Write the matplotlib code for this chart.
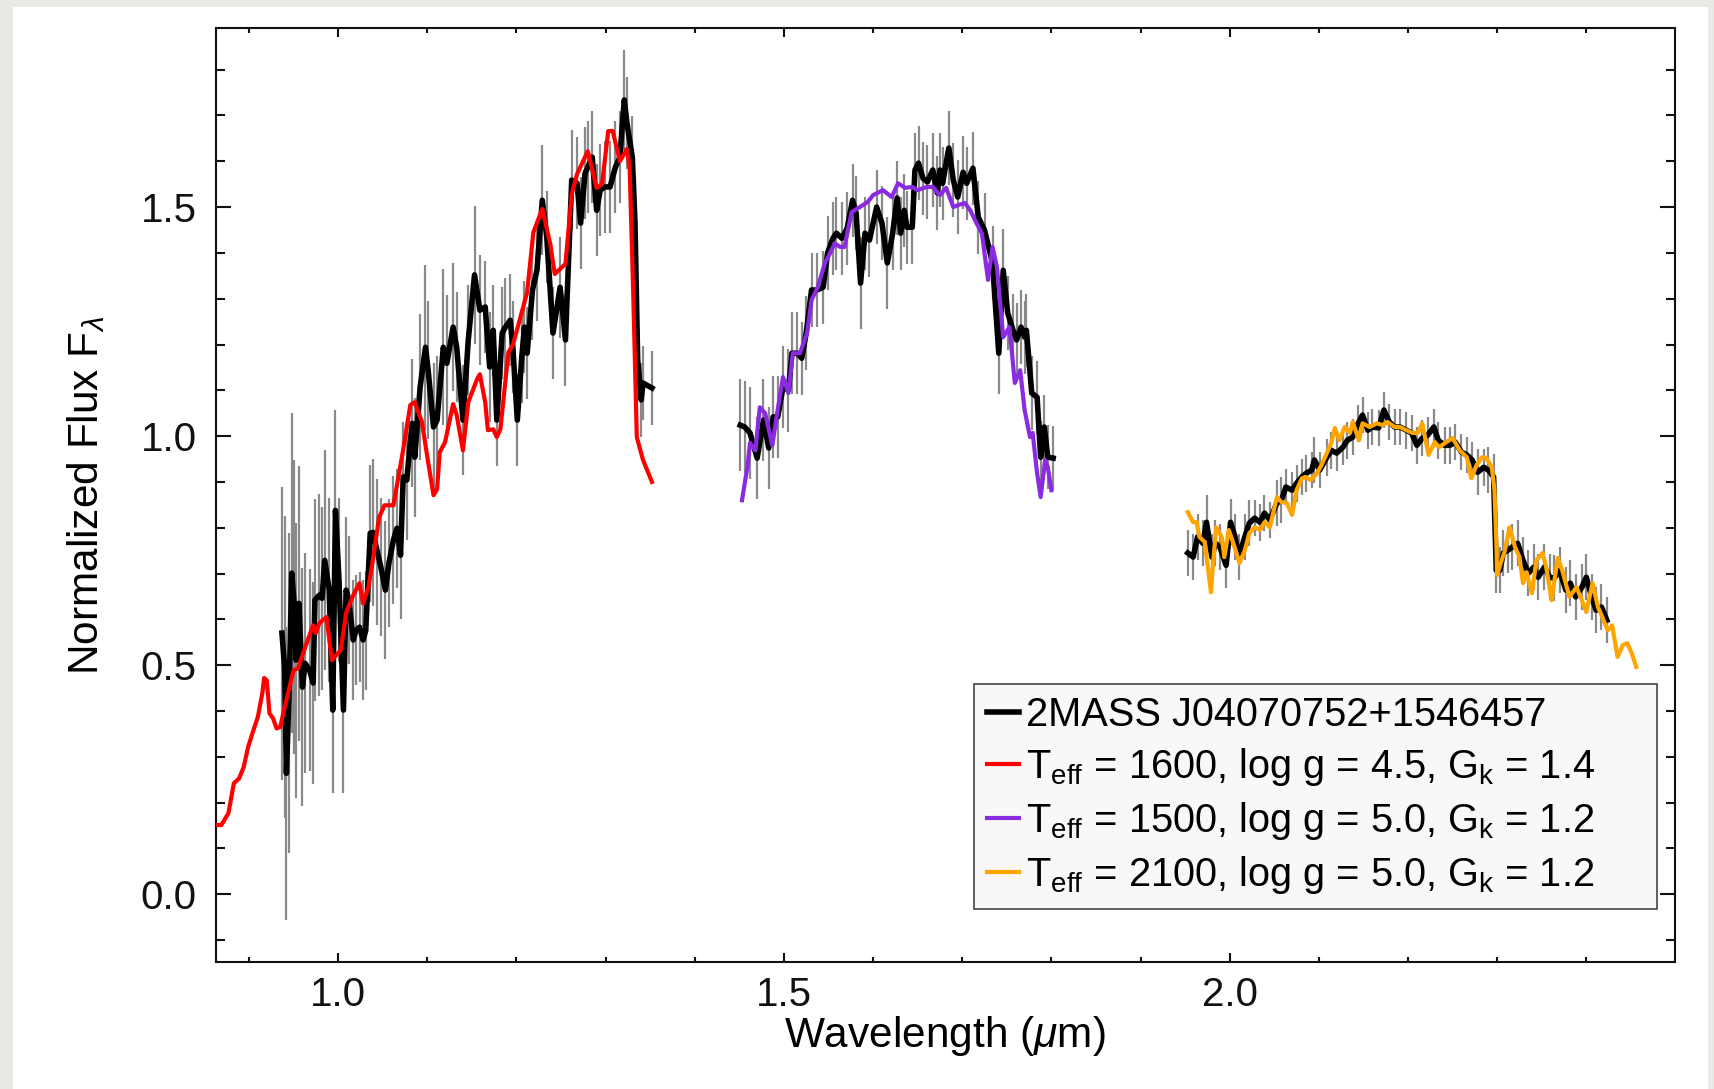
import matplotlib
matplotlib.use("Agg")
import matplotlib.pyplot as plt
from matplotlib.patches import Rectangle
from matplotlib.ticker import MultipleLocator, FormatStrFormatter

# --- observed spectrum, J band ---
wl_j = [
    0.937, 0.940, 0.942, 0.945, 0.948, 0.951, 0.953, 0.956, 0.960, 0.963,
    0.968, 0.972, 0.974, 0.979, 0.982, 0.985, 0.990, 0.994, 0.997, 1.001,
    1.006, 1.009, 1.012, 1.017, 1.020, 1.024, 1.028, 1.031, 1.036, 1.039,
    1.044, 1.048, 1.053, 1.057, 1.062, 1.066, 1.070, 1.073, 1.077, 1.083,
    1.086, 1.092, 1.098, 1.101, 1.107, 1.111, 1.118, 1.122, 1.129, 1.133,
    1.140, 1.146, 1.153, 1.159, 1.165, 1.170, 1.174, 1.178, 1.184, 1.187,
    1.193, 1.196, 1.201, 1.206, 1.209, 1.212, 1.218, 1.223, 1.229, 1.234,
    1.241, 1.249, 1.255, 1.262, 1.268, 1.272, 1.277, 1.280, 1.285, 1.290,
    1.294, 1.299, 1.305, 1.311, 1.316, 1.321, 1.324, 1.330, 1.333, 1.336,
    1.340, 1.342, 1.352,
]
flux_j = [
    0.570, 0.496, 0.264, 0.439, 0.701, 0.627, 0.511, 0.635, 0.452, 0.504,
    0.489, 0.461, 0.642, 0.653, 0.646, 0.729, 0.664, 0.402, 0.838, 0.686,
    0.402, 0.664, 0.642, 0.555, 0.576, 0.583, 0.555, 0.576, 0.788, 0.790,
    0.747, 0.714, 0.664, 0.723, 0.773, 0.799, 0.740, 0.911, 0.904, 1.028,
    0.954, 1.107, 1.194, 1.144, 1.020, 1.035, 1.194, 1.159, 1.238, 1.194,
    1.035, 1.210, 1.352, 1.275, 1.282, 1.151, 1.231, 1.035, 1.225, 1.236,
    1.253, 1.194, 1.035, 1.173, 1.238, 1.181, 1.319, 1.362, 1.515, 1.435,
    1.225, 1.325, 1.210, 1.559, 1.552, 1.465, 1.574, 1.587, 1.609, 1.493,
    1.537, 1.544, 1.544, 1.587, 1.609, 1.734, 1.683, 1.609, 1.465, 1.166,
    1.079, 1.116, 1.105,
]
err_j = [
    0.32, 0.33, 0.32, 0.35, 0.35, 0.32, 0.30, 0.30, 0.26, 0.24,
    0.22, 0.22, 0.22, 0.22, 0.20, 0.24, 0.20, 0.18, 0.22, 0.18,
    0.18, 0.16, 0.14, 0.13, 0.12, 0.12, 0.13, 0.13, 0.15, 0.16,
    0.16, 0.15, 0.15, 0.14, 0.14, 0.13, 0.14, 0.12, 0.13, 0.14,
    0.13, 0.16, 0.18, 0.15, 0.14, 0.14, 0.17, 0.15, 0.14, 0.12,
    0.12, 0.12, 0.15, 0.12, 0.10, 0.12, 0.10, 0.10, 0.10, 0.11,
    0.10, 0.10, 0.10, 0.10, 0.10, 0.10, 0.11, 0.11, 0.12, 0.10,
    0.10, 0.11, 0.10, 0.11, 0.10, 0.10, 0.10, 0.10, 0.10, 0.10,
    0.10, 0.10, 0.10, 0.10, 0.10, 0.11, 0.10, 0.09, 0.10, 0.09,
    0.08, 0.08, 0.08,
]

# --- observed spectrum, H band ---
wl_h = [
    1.451, 1.456, 1.462, 1.470, 1.477, 1.483, 1.488, 1.493, 1.499, 1.505,
    1.509, 1.515, 1.520, 1.525, 1.531, 1.537, 1.544, 1.549, 1.555, 1.559,
    1.565, 1.571, 1.577, 1.581, 1.586, 1.591, 1.596, 1.604, 1.610, 1.616,
    1.622, 1.627, 1.631, 1.635, 1.638, 1.644, 1.647, 1.651, 1.656, 1.661,
    1.667, 1.672, 1.675, 1.678, 1.685, 1.690, 1.695, 1.701, 1.705, 1.712,
    1.718, 1.725, 1.734, 1.741, 1.746, 1.751, 1.757, 1.761, 1.766, 1.770,
    1.772, 1.778, 1.784, 1.788, 1.792, 1.796, 1.802,
]
flux_h = [
    1.024, 1.020, 1.007, 0.952, 1.035, 0.974, 1.042, 1.042, 1.107, 1.100,
    1.181, 1.181, 1.170, 1.225, 1.319, 1.319, 1.325, 1.400, 1.432, 1.443,
    1.432, 1.454, 1.515, 1.487, 1.334, 1.443, 1.428, 1.500, 1.465, 1.378,
    1.443, 1.520, 1.443, 1.493, 1.456, 1.456, 1.581, 1.596, 1.563, 1.555,
    1.581, 1.531, 1.581, 1.552, 1.629, 1.559, 1.522, 1.576, 1.552, 1.585,
    1.478, 1.450, 1.378, 1.181, 1.362, 1.269, 1.231, 1.210, 1.238, 1.216,
    1.231, 1.094, 1.085, 0.954, 1.020, 0.954, 0.952,
]
err_h = [
    0.10, 0.10, 0.10, 0.09, 0.09, 0.09, 0.09, 0.09, 0.09, 0.09,
    0.09, 0.09, 0.08, 0.08, 0.08, 0.08, 0.08, 0.08, 0.08, 0.08,
    0.08, 0.08, 0.08, 0.08, 0.10, 0.08, 0.08, 0.08, 0.08, 0.10,
    0.08, 0.08, 0.08, 0.08, 0.08, 0.08, 0.08, 0.08, 0.08, 0.08,
    0.08, 0.08, 0.08, 0.08, 0.08, 0.08, 0.08, 0.08, 0.08, 0.08,
    0.08, 0.08, 0.08, 0.09, 0.09, 0.08, 0.08, 0.08, 0.08, 0.08,
    0.08, 0.08, 0.08, 0.08, 0.07, 0.07, 0.07,
]

# --- observed spectrum, K band ---
wl_k = [
    1.953, 1.959, 1.964, 1.970, 1.974, 1.980, 1.984, 1.989, 1.996, 2.001,
    2.006, 2.010, 2.017, 2.022, 2.028, 2.034, 2.039, 2.045, 2.053, 2.058,
    2.063, 2.070, 2.075, 2.081, 2.086, 2.092, 2.095, 2.101, 2.109, 2.114,
    2.120, 2.127, 2.132, 2.138, 2.144, 2.149, 2.155, 2.160, 2.167, 2.173,
    2.179, 2.185, 2.191, 2.198, 2.204, 2.210, 2.216, 2.222, 2.229, 2.234,
    2.241, 2.247, 2.253, 2.260, 2.266, 2.272, 2.278, 2.285, 2.290, 2.296,
    2.299, 2.303, 2.307, 2.312, 2.317, 2.323, 2.329, 2.335, 2.341, 2.346,
    2.353, 2.359, 2.364, 2.370, 2.377, 2.382, 2.388, 2.395, 2.400, 2.406,
    2.411, 2.417, 2.423,
]
flux_k = [
    0.745, 0.736, 0.780, 0.766, 0.812, 0.736, 0.766, 0.758, 0.718, 0.812,
    0.780, 0.736, 0.780, 0.810, 0.821, 0.812, 0.832, 0.817, 0.854, 0.860,
    0.889, 0.882, 0.897, 0.911, 0.919, 0.926, 0.948, 0.926, 0.954, 0.969,
    0.963, 0.976, 0.991, 0.998, 1.028, 1.046, 1.013, 1.020, 1.018, 1.057,
    1.031, 1.020, 1.020, 1.013, 1.007, 0.980, 0.996, 1.002, 1.020, 0.991,
    0.980, 0.980, 0.987, 0.965, 0.959, 0.948, 0.921, 0.932, 0.926, 0.911,
    0.707, 0.707, 0.745, 0.751, 0.758, 0.766, 0.729, 0.701, 0.714, 0.692,
    0.714, 0.692, 0.690, 0.707, 0.664, 0.679, 0.649, 0.670, 0.692, 0.649,
    0.620, 0.627, 0.598,
]
err_k = [
    0.05, 0.05, 0.05, 0.05, 0.06, 0.05, 0.05, 0.05, 0.05, 0.05,
    0.05, 0.05, 0.05, 0.05, 0.04, 0.04, 0.04, 0.04, 0.05, 0.05,
    0.04, 0.04, 0.04, 0.04, 0.04, 0.04, 0.05, 0.04, 0.04, 0.04,
    0.04, 0.04, 0.04, 0.04, 0.04, 0.04, 0.04, 0.04, 0.04, 0.04,
    0.04, 0.04, 0.04, 0.04, 0.04, 0.04, 0.04, 0.04, 0.04, 0.04,
    0.04, 0.04, 0.04, 0.04, 0.04, 0.04, 0.05, 0.04, 0.05, 0.05,
    0.05, 0.05, 0.05, 0.05, 0.05, 0.05, 0.05, 0.05, 0.05, 0.05,
    0.05, 0.05, 0.05, 0.05, 0.05, 0.05, 0.05, 0.05, 0.05, 0.05,
    0.05, 0.05, 0.05,
]

# --- model spectra ---
wl_m1600 = [
    0.863, 0.869, 0.877, 0.883, 0.889, 0.894, 0.899, 0.905, 0.910, 0.915,
    0.917, 0.920, 0.923, 0.927, 0.931, 0.935, 0.942, 0.950, 0.955, 0.964,
    0.972, 0.975, 0.979, 0.987, 0.993, 1.003, 1.009, 1.017, 1.024, 1.028,
    1.034, 1.039, 1.046, 1.052, 1.062, 1.072, 1.081, 1.086, 1.094, 1.101,
    1.107, 1.111, 1.114, 1.120, 1.129, 1.133, 1.140, 1.146, 1.156, 1.159,
    1.165, 1.168, 1.174, 1.178, 1.182, 1.191, 1.196, 1.204, 1.212, 1.219,
    1.229, 1.238, 1.243, 1.255, 1.262, 1.268, 1.280, 1.290, 1.296, 1.303,
    1.308, 1.316, 1.324, 1.327, 1.331, 1.335, 1.342, 1.352,
]
flux_m1600 = [
    0.151, 0.151, 0.177, 0.242, 0.253, 0.277, 0.321, 0.358, 0.387, 0.439,
    0.472, 0.467, 0.395, 0.384, 0.362, 0.365, 0.424, 0.489, 0.493, 0.544,
    0.587, 0.570, 0.592, 0.605, 0.511, 0.533, 0.614, 0.653, 0.679, 0.635,
    0.670, 0.729, 0.823, 0.849, 0.849, 0.959, 1.068, 1.074, 1.031, 0.943,
    0.871, 0.884, 0.965, 0.987, 1.070, 1.046, 0.969, 1.074, 1.125, 1.135,
    1.074, 1.013, 1.015, 0.998, 1.015, 1.183, 1.199, 1.256, 1.314, 1.445,
    1.496, 1.419, 1.354, 1.376, 1.528, 1.572, 1.622, 1.542, 1.550, 1.666,
    1.666, 1.600, 1.627, 1.585, 1.312, 0.998, 0.948, 0.900,
]
wl_m1500 = [
    1.453, 1.459, 1.462, 1.468, 1.473, 1.479, 1.487, 1.493, 1.499, 1.505,
    1.510, 1.518, 1.526, 1.531, 1.538, 1.546, 1.552, 1.557, 1.563, 1.568,
    1.576, 1.585, 1.594, 1.600, 1.611, 1.621, 1.628, 1.636, 1.644, 1.650,
    1.660, 1.667, 1.675, 1.682, 1.690, 1.695, 1.703, 1.709, 1.716, 1.722,
    1.729, 1.734, 1.739, 1.746, 1.753, 1.759, 1.765, 1.770, 1.776, 1.779,
    1.784, 1.788, 1.793, 1.796, 1.800,
]
flux_m1500 = [
    0.860, 0.932, 0.985, 0.969, 1.063, 1.050, 0.980, 1.057, 1.129, 1.094,
    1.181, 1.181, 1.225, 1.297, 1.325, 1.378, 1.400, 1.421, 1.413, 1.413,
    1.489, 1.500, 1.511, 1.526, 1.537, 1.522, 1.552, 1.542, 1.544, 1.537,
    1.544, 1.544, 1.526, 1.542, 1.500, 1.504, 1.509, 1.493, 1.465, 1.443,
    1.341, 1.413, 1.369, 1.216, 1.238, 1.116, 1.144, 1.057, 0.998, 1.007,
    0.919, 0.867, 0.948, 0.932, 0.882,
]
wl_m2100 = [
    1.953, 1.959, 1.963, 1.966, 1.972, 1.979, 1.981, 1.985, 1.991, 1.994,
    1.999, 2.003, 2.011, 2.017, 2.022, 2.028, 2.034, 2.039, 2.045, 2.053,
    2.058, 2.064, 2.070, 2.075, 2.081, 2.085, 2.091, 2.098, 2.103, 2.109,
    2.114, 2.118, 2.123, 2.129, 2.135, 2.138, 2.145, 2.149, 2.157, 2.165,
    2.172, 2.177, 2.185, 2.191, 2.198, 2.205, 2.211, 2.216, 2.223, 2.230,
    2.235, 2.243, 2.250, 2.258, 2.266, 2.271, 2.277, 2.283, 2.288, 2.294,
    2.297, 2.299, 2.300, 2.305, 2.308, 2.314, 2.320, 2.325, 2.329, 2.333,
    2.339, 2.344, 2.351, 2.355, 2.361, 2.368, 2.373, 2.381, 2.389, 2.395,
    2.400, 2.407, 2.413, 2.418, 2.424, 2.429, 2.435, 2.441, 2.446, 2.451,
    2.456,
]
flux_m2100 = [
    0.834, 0.812, 0.812, 0.780, 0.769, 0.659, 0.714, 0.801, 0.780, 0.736,
    0.795, 0.773, 0.723, 0.751, 0.788, 0.801, 0.795, 0.812, 0.801, 0.867,
    0.856, 0.854, 0.828, 0.882, 0.908, 0.911, 0.904, 0.919, 0.937, 0.963,
    0.985, 1.018, 0.991, 1.020, 1.007, 1.031, 0.991, 1.028, 1.020, 1.028,
    1.024, 1.031, 1.020, 1.020, 1.013, 1.007, 1.007, 1.028, 0.959, 0.987,
    0.976, 0.987, 0.996, 0.969, 0.954, 0.908, 0.937, 0.954, 0.952, 0.932,
    0.882, 0.773, 0.697, 0.729, 0.745, 0.801, 0.758, 0.736, 0.679, 0.703,
    0.657, 0.729, 0.745, 0.714, 0.642, 0.734, 0.707, 0.649, 0.670, 0.642,
    0.616, 0.679, 0.627, 0.605, 0.576, 0.587, 0.518, 0.544, 0.548, 0.526,
    0.496,
]

label_obs = "2MASS J04070752+1546457"
label_m1600 = r"T$_{\rm eff}$ = 1600, log g = 4.5, G$_{\rm k}$ = 1.4"
label_m1500 = r"T$_{\rm eff}$ = 1500, log g = 5.0, G$_{\rm k}$ = 1.2"
label_m2100 = r"T$_{\rm eff}$ = 2100, log g = 5.0, G$_{\rm k}$ = 1.2"

# --- style ---
plt.rcParams["font.family"] = ["Liberation Sans", "DejaVu Sans"]
plt.rcParams["mathtext.fontset"] = "custom"
plt.rcParams["mathtext.rm"] = "Liberation Sans"
plt.rcParams["mathtext.it"] = "Liberation Sans:italic"
plt.rcParams["mathtext.bf"] = "Liberation Sans:bold"
plt.rcParams["font.size"] = 29

fig = plt.figure(figsize=(17.14, 10.89), dpi=100, facecolor="#e9e9e5")
# white card behind the plot (grey paper frame around it)
card = Rectangle((0.0076, 0.0), 0.9889, 0.9936, transform=fig.transFigure,
                 facecolor="white", edgecolor="none", zorder=-10)
fig.add_artist(card)
ax = fig.add_axes([0.126, 0.1166, 0.851, 0.8577])
ax.set_facecolor("white")

err_kw = dict(fmt="none", ecolor="#8a8a8a", elinewidth=1.6, capsize=0, zorder=1)
ax.errorbar(wl_j, flux_j, yerr=err_j, **err_kw)
ax.errorbar(wl_h, flux_h, yerr=err_h, **err_kw)
ax.errorbar(wl_k, flux_k, yerr=err_k, **err_kw)

ax.plot(wl_j, flux_j, color="black", lw=4.0, zorder=2, label=label_obs)
ax.plot(wl_h, flux_h, color="black", lw=4.0, zorder=2)
ax.plot(wl_k, flux_k, color="black", lw=4.0, zorder=2)

ax.plot(wl_m1600, flux_m1600, color="#ff0000", lw=3.0, zorder=3, label=label_m1600)
ax.plot(wl_m1500, flux_m1500, color="#8a2be2", lw=3.0, zorder=3, label=label_m1500)
ax.plot(wl_m2100, flux_m2100, color="#ffa500", lw=3.0, zorder=3, label=label_m2100)

ax.set_xlim(0.863, 2.499)
ax.set_ylim(-0.148, 1.891)
ax.xaxis.set_major_locator(MultipleLocator(0.5))
ax.xaxis.set_minor_locator(MultipleLocator(0.1))
ax.yaxis.set_major_locator(MultipleLocator(0.5))
ax.yaxis.set_minor_locator(MultipleLocator(0.1))
ax.xaxis.set_major_formatter(FormatStrFormatter("%.1f"))
ax.yaxis.set_major_formatter(FormatStrFormatter("%.1f"))

ax.tick_params(axis="both", which="both", direction="in", top=True, right=True,
               width=1.5, colors="#111111", labelsize=29)
ax.tick_params(axis="x", which="major", length=6.8, pad=10)
ax.tick_params(axis="x", which="minor", length=3.6)
ax.tick_params(axis="y", which="major", length=10.8, pad=14)
ax.tick_params(axis="y", which="minor", length=6.5)
for sp in ax.spines.values():
    sp.set_linewidth(1.5)
    sp.set_color("#111111")

ax.set_xlabel(r"Wavelength ($\mu$m)", fontsize=30.5, labelpad=0)
ax.set_ylabel(r"Normalized Flux F$_\lambda$", fontsize=30.5, labelpad=24)

# legend box stretched to the width seen in the original
leg = ax.legend(loc="lower left", bbox_to_anchor=(0.520, 0.057, 0.468, 0.245),
                mode="expand", borderaxespad=0, fontsize=28.6,
                handlelength=0.8, handletextpad=0.18, borderpad=0.32,
                labelspacing=0.3, fancybox=False, framealpha=1)
leg.get_frame().set_edgecolor("#444444")
leg.get_frame().set_facecolor("#f8f8f8")
leg.get_frame().set_linewidth(1.2)

fig.savefig("out.png", dpi=100, facecolor=fig.get_facecolor())
